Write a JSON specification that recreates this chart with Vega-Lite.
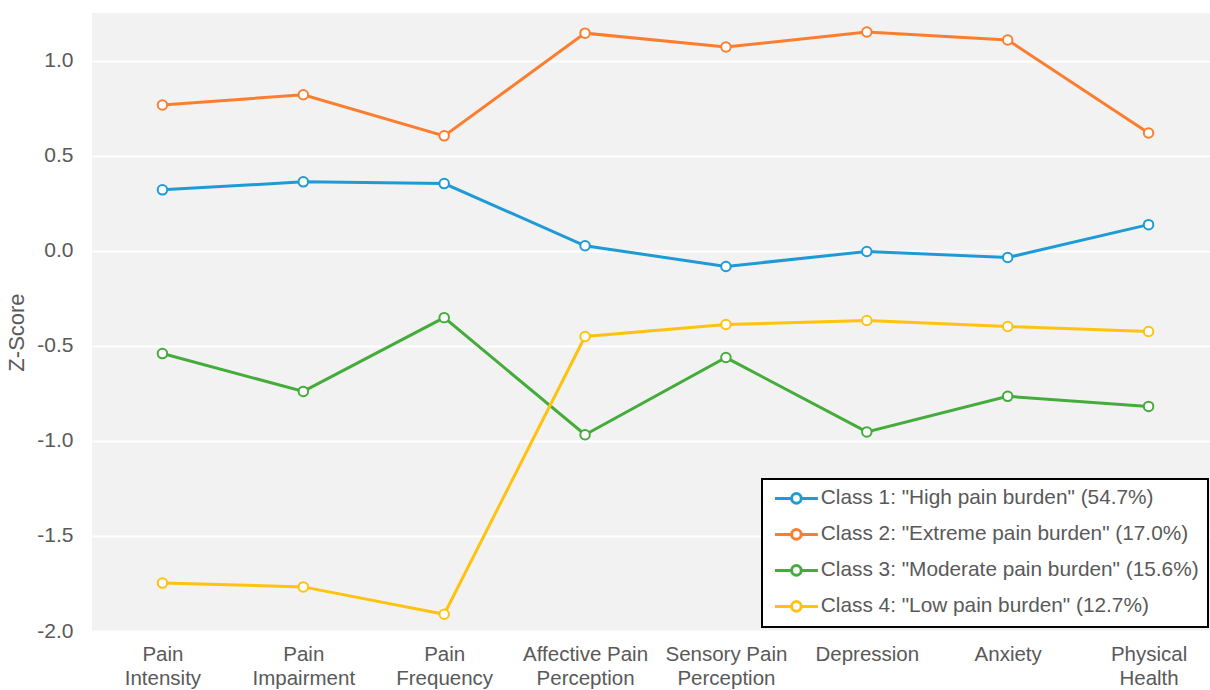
{
  "$schema": "https://vega.github.io/schema/vega-lite/v6.json",
  "width": 1127,
  "height": 618,
  "autosize": "none",
  "padding": {"left": 92, "top": 13, "right": 0, "bottom": 59},
  "background": "white",
  "config": {
    "view": {"fill": "#f2f2f2", "stroke": null},
    "font": "Liberation Sans",
    "axis": {"labelFont": "Liberation Sans", "titleFont": "Liberation Sans", "labelColor": "#595959", "titleColor": "#595959"},
    "legend": {"labelFont": "Liberation Sans"}
  },
  "data": {
    "values": [
      {"measure": "Pain Intensity", "cls": "Class 1: \"High pain burden\" (54.7%)", "z": 0.32},
      {"measure": "Pain Impairment", "cls": "Class 1: \"High pain burden\" (54.7%)", "z": 0.362},
      {"measure": "Pain Frequency", "cls": "Class 1: \"High pain burden\" (54.7%)", "z": 0.353},
      {"measure": "Affective Pain Perception", "cls": "Class 1: \"High pain burden\" (54.7%)", "z": 0.026},
      {"measure": "Sensory Pain Perception", "cls": "Class 1: \"High pain burden\" (54.7%)", "z": -0.083},
      {"measure": "Depression", "cls": "Class 1: \"High pain burden\" (54.7%)", "z": -0.004},
      {"measure": "Anxiety", "cls": "Class 1: \"High pain burden\" (54.7%)", "z": -0.036},
      {"measure": "Physical Health", "cls": "Class 1: \"High pain burden\" (54.7%)", "z": 0.137},
      {"measure": "Pain Intensity", "cls": "Class 2: \"Extreme pain burden\" (17.0%)", "z": 0.766},
      {"measure": "Pain Impairment", "cls": "Class 2: \"Extreme pain burden\" (17.0%)", "z": 0.82},
      {"measure": "Pain Frequency", "cls": "Class 2: \"Extreme pain burden\" (17.0%)", "z": 0.604},
      {"measure": "Affective Pain Perception", "cls": "Class 2: \"Extreme pain burden\" (17.0%)", "z": 1.144},
      {"measure": "Sensory Pain Perception", "cls": "Class 2: \"Extreme pain burden\" (17.0%)", "z": 1.071},
      {"measure": "Depression", "cls": "Class 2: \"Extreme pain burden\" (17.0%)", "z": 1.15},
      {"measure": "Anxiety", "cls": "Class 2: \"Extreme pain burden\" (17.0%)", "z": 1.108},
      {"measure": "Physical Health", "cls": "Class 2: \"Extreme pain burden\" (17.0%)", "z": 0.619},
      {"measure": "Pain Intensity", "cls": "Class 3: \"Moderate pain burden\" (15.6%)", "z": -0.541},
      {"measure": "Pain Impairment", "cls": "Class 3: \"Moderate pain burden\" (15.6%)", "z": -0.74},
      {"measure": "Pain Frequency", "cls": "Class 3: \"Moderate pain burden\" (15.6%)", "z": -0.352},
      {"measure": "Affective Pain Perception", "cls": "Class 3: \"Moderate pain burden\" (15.6%)", "z": -0.968},
      {"measure": "Sensory Pain Perception", "cls": "Class 3: \"Moderate pain burden\" (15.6%)", "z": -0.562},
      {"measure": "Depression", "cls": "Class 3: \"Moderate pain burden\" (15.6%)", "z": -0.953},
      {"measure": "Anxiety", "cls": "Class 3: \"Moderate pain burden\" (15.6%)", "z": -0.766},
      {"measure": "Physical Health", "cls": "Class 3: \"Moderate pain burden\" (15.6%)", "z": -0.819},
      {"measure": "Pain Intensity", "cls": "Class 4: \"Low pain burden\" (12.7%)", "z": -1.748},
      {"measure": "Pain Impairment", "cls": "Class 4: \"Low pain burden\" (12.7%)", "z": -1.768},
      {"measure": "Pain Frequency", "cls": "Class 4: \"Low pain burden\" (12.7%)", "z": -1.912},
      {"measure": "Affective Pain Perception", "cls": "Class 4: \"Low pain burden\" (12.7%)", "z": -0.451},
      {"measure": "Sensory Pain Perception", "cls": "Class 4: \"Low pain burden\" (12.7%)", "z": -0.388},
      {"measure": "Depression", "cls": "Class 4: \"Low pain burden\" (12.7%)", "z": -0.367},
      {"measure": "Anxiety", "cls": "Class 4: \"Low pain burden\" (12.7%)", "z": -0.399},
      {"measure": "Physical Health", "cls": "Class 4: \"Low pain burden\" (12.7%)", "z": -0.425}
    ]
  },
  "encoding": {
    "x": {
      "field": "measure",
      "type": "nominal",
      "sort": null,
      "scale": {"type": "point", "padding": 0.5},
      "axis": {
        "title": null,
        "labelAngle": 0,
        "ticks": false,
        "domain": false,
        "grid": false,
        "labelFontSize": 20.5,
        "labelPadding": 13,
        "labelLineHeight": 24,
        "labelBaseline": "top",
        "labelLimit": 200,
        "labelExpr": "indexof(datum.label, ' ') < 0 ? datum.label : [slice(datum.label, 0, lastindexof(datum.label, ' ')), slice(datum.label, lastindexof(datum.label, ' ') + 1)]"
      }
    },
    "y": {
      "field": "z",
      "type": "quantitative",
      "scale": {"domain": [-2, 1.25], "nice": false, "zero": false},
      "axis": {
        "title": "Z-Score",
        "titleFontSize": 22,
        "titleFontWeight": "normal",
        "titlePadding": 8,
        "titleY": 319,
        "values": [-2, -1.5, -1, -0.5, 0, 0.5, 1],
        "labelExpr": "replace(format(datum.value, '.1f'), '\u2212', '-')",
        "labelFontSize": 21,
        "labelPadding": 19,
        "ticks": false,
        "domain": false,
        "grid": true,
        "gridColor": "white",
        "gridWidth": 2,
        "gridOpacity": 1
      }
    },
    "stroke": {
      "field": "cls",
      "type": "nominal",
      "scale": {"range": ["#1e9bd7", "#fd7d2e", "#44ac3a", "#ffc20e"]},
      "legend": {
        "title": null,
        "orient": "none",
        "legendX": 670,
        "legendY": 466,
        "padding": 9,
        "strokeColor": "black",
        "fillColor": "white",
        "labelFontSize": 20.8,
        "labelColor": "#595959",
        "labelLimit": 500,
        "labelOffset": 14,
        "symbolType": "M-3.58,0H-0.8M0.8,0H3.58M-0.8,0A0.8,0.8 0 1,0 0.8,0A0.8,0.8 0 1,0 -0.8,0",
        "symbolSize": 144,
        "symbolStrokeWidth": 3,
        "symbolFillColor": "white",
        "symbolOffset": 15,
        "rowPadding": 13,
        "encode": {
          "legend": {"update": {"strokeWidth": {"value": 2}}},
          "symbols": {"update": {"fill": {"value": "white"}, "strokeWidth": {"value": 3}}}
        }
      }
    }
  },
  "layer": [
    {"mark": {"type": "line", "strokeWidth": 3}},
    {"mark": {"type": "point", "filled": false, "fill": "white", "fillOpacity": 1, "size": 90, "strokeWidth": 2, "opacity": 1}}
  ]
}
